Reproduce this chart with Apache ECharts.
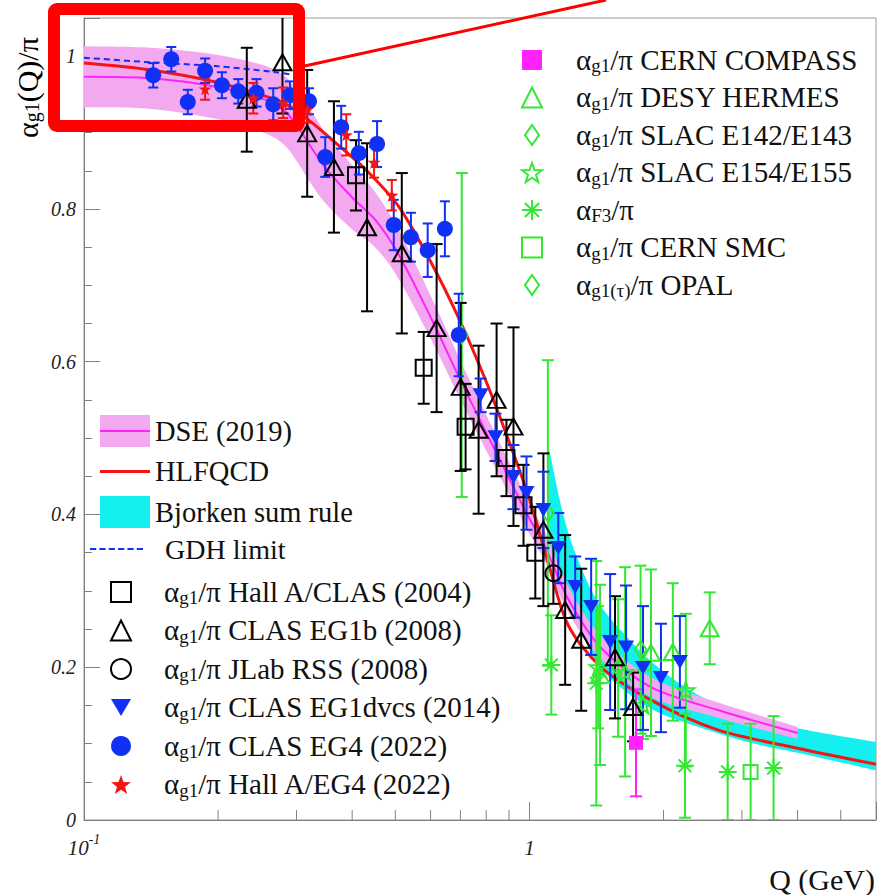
<!DOCTYPE html>
<html>
<head>
<meta charset="utf-8">
<title>alpha_g1 effective charge</title>
<script src="https://cdn.jsdelivr.net/npm/echarts@6.0.0/dist/echarts.min.js"></script>
<style>
  html, body { margin: 0; padding: 0; background: #fff; }
  #chart { width: 879px; height: 895px; }
</style>
</head>
<body>
<div id="chart"></div>
<script>
// values (Q in GeV, alpha/pi)

// DSE (2019) band: centre line and half width
const dseQ    = [0.1, 0.141, 0.198, 0.25, 0.28, 0.30, 0.32, 0.35, 0.40, 0.452, 0.509, 0.604, 0.683, 0.73, 0.866, 0.995, 1.086, 1.22, 1.45, 1.875, 2.647, 4.0]
const dseMid  = [0.973, 0.971, 0.960, 0.945, 0.930, 0.910, 0.885, 0.852, 0.815, 0.785, 0.740, 0.655, 0.589, 0.554, 0.467, 0.397, 0.357, 0.290, 0.225, 0.174, 0.144, 0.114]
const dseHalf = [0.040, 0.040, 0.042, 0.044, 0.045, 0.047, 0.048, 0.046, 0.042, 0.036, 0.032, 0.028, 0.026, 0.025, 0.022, 0.020, 0.019, 0.017, 0.015, 0.013, 0.010, 0.008]

// HLFQCD
const hlfQ = [0.1, 0.141, 0.198, 0.28, 0.32, 0.37, 0.43, 0.509, 0.604, 0.694, 0.797, 0.898, 1.0, 1.103, 1.222, 1.449, 1.875, 2.647, 4.0, 6.0]
const hlfA = [0.991, 0.982, 0.966, 0.939, 0.916, 0.885, 0.851, 0.803, 0.728, 0.657, 0.576, 0.497, 0.420, 0.336, 0.255, 0.200, 0.157, 0.118, 0.094, 0.073]

// Bjorken sum rule band
const bjQ  = [1.103, 1.191, 1.287, 1.427, 1.665, 1.944, 2.388, 3.09, 4.0, 6.0]
const bjLo = [0.340, 0.290, 0.255, 0.203, 0.166, 0.141, 0.122, 0.102, 0.088, 0.065]
const bjHi = [0.491, 0.400, 0.340, 0.285, 0.238, 0.200, 0.164, 0.137, 0.120, 0.102]

// GDH limit
const gdhQ = [0.1, 0.141, 0.198, 0.27, 0.30]
const gdhA = [0.998, 0.992, 0.987, 0.979, 0.975]

// alpha_g1/pi Hall A/CLAS (2004)
const hacQ = [0.408, 0.579, 0.719, 0.888, 0.970, 1.031]
const hacA = [0.844, 0.592, 0.515, 0.474, 0.412, 0.350]
const hacE = [0.046, 0.047, 0.056, 0.050, 0.053, 0.060]

// CLAS EG1b (2008)
const eg1bQ = [0.232, 0.279, 0.317, 0.364, 0.432, 0.517, 0.619, 0.701, 0.769, 0.844, 0.921, 1.075, 1.203, 1.307, 1.557, 1.709]
const eg1bA = [0.943, 0.992, 0.899, 0.855, 0.776, 0.742, 0.644, 0.567, 0.511, 0.550, 0.515, 0.380, 0.275, 0.236, 0.213, 0.148]
const eg1bE = [0.068, 0.067, 0.083, 0.086, 0.110, 0.105, 0.110, 0.110, 0.110, 0.100, 0.130, 0.100, 0.098, 0.093, 0.080, 0.045]

// JLab RSS (2008)
const rssQ = [1.132]
const rssA = [0.323]
const rssE = [0.040]

// CLAS EG1dvcs (2014)
const dvcsQ = [0.777, 0.839, 0.921, 0.985, 1.075, 1.161, 1.267, 1.376, 1.518, 1.648, 1.799, 1.974, 2.177]
const dvcsA = [0.556, 0.501, 0.449, 0.428, 0.406, 0.356, 0.305, 0.279, 0.233, 0.226, 0.199, 0.186, 0.207]
const dvcsE = [0.022, 0.031, 0.042, 0.048, 0.050, 0.046, 0.040, 0.063, 0.089, 0.081, 0.081, 0.071, 0.060]

// CLAS EG4 (2022)
const eg4Q = [0.143, 0.157, 0.171, 0.187, 0.204, 0.222, 0.244, 0.266, 0.290, 0.320, 0.348, 0.378, 0.414, 0.455, 0.496, 0.542, 0.591, 0.646, 0.694]
const eg4A = [0.975, 0.996, 0.940, 0.981, 0.962, 0.954, 0.952, 0.937, 0.949, 0.941, 0.868, 0.907, 0.873, 0.885, 0.779, 0.763, 0.746, 0.774, 0.635]
const eg4E = [0.016, 0.016, 0.016, 0.016, 0.017, 0.016, 0.018, 0.021, 0.018, 0.017, 0.026, 0.028, 0.028, 0.030, 0.033, 0.032, 0.035, 0.036, 0.054]

// Hall A/EG4 (2022)
const haQ = [0.187, 0.240, 0.280, 0.317, 0.388, 0.448, 0.491]
const haA = [0.957, 0.945, 0.939, 0.930, 0.897, 0.861, 0.818]
const haE = [0.014, 0.020, 0.020, 0.017, 0.027, 0.020, 0.020]

// CERN COMPASS
const compQ = [1.735]
const compA = [0.101]
const compE = [0.070]

// DESY HERMES
const hermQ = [1.441, 1.875, 2.099, 2.54]
const hermA = [0.190, 0.219, 0.220, 0.251]
const hermE = [0.118, 0.109, 0.090, 0.047]

// SLAC E142/E143
const e143Q = [0.705, 1.10, 1.582]
const e143A = [0.635, 0.402, 0.199]
const e143E = [0.212, 0.200, 0.090]

// SLAC E154/E155
const e155Q = [1.427, 1.64, 1.799, 2.245]
const e155A = [0.200, 0.194, 0.151, 0.170]
const e155E = [0.080, 0.137, 0.045, 0.100]

// alpha_F3/pi
const f3Q = [1.12, 1.413, 2.235, 2.787, 3.533]
const f3A = [0.203, 0.179, 0.071, 0.063, 0.068]
const f3E = [0.065, 0.160, 0.068, 0.063, 0.068]

// CERN SMC
const smcQ = [3.138]
const smcA = [0.063]
const smcE = [0.063]

// OPAL (tau)
const opalQ = [1.777]
const opalA = [0.223]
const opalE = [0.110]

// axis ticks
const xMinorTicks = [0.2, 0.3, 0.4, 0.5, 0.6, 0.7, 0.8, 0.9, 2, 3, 4, 5]

const SERIF = '"Liberation Serif", "DejaVu Serif", serif'
const BLUE = '#1030f5'
const RED = '#f51414'
const GREEN = '#33e833'
const MAGENTA = '#ff22ff'
const CYAN = '#14f0f0'
const PINK = '#f3a9ef'
const AXIS = '#808080'

const STAR = 'path://M10,0 L12.35,6.76 L19.51,6.91 L13.8,11.24 L15.88,18.09 L10,14 L4.12,18.09 L6.2,11.24 L0.49,6.91 L7.65,6.76 Z'
const ASTERISK = 'path://M10,0 L10,20 M0,10 L20,10 M2.93,2.93 L17.07,17.07 M2.93,17.07 L17.07,2.93'
const DOWN = 'path://M0,0 L20,0 L10,17 Z'
const DIAMOND = 'path://M7,0 L14,10 L7,20 L0,10 Z'
const LINE_ICON = 'path://M0,0 L50,0 L50,3 L0,3 Z'
const DASH_ICON = 'path://M0,0 h6 v2 h-6 Z M9,0 h6 v2 h-6 Z M18,0 h6 v2 h-6 Z M27,0 h6 v2 h-6 Z M36,0 h6 v2 h-6 Z M45,0 h6 v2 h-6 Z'

const hollow = c => ({ color: 'rgba(0,0,0,0)', borderColor: c, borderWidth: 2, opacity: 1 })

const errorBars = (name, q, a, e, color, cap) => ({
  type: 'custom',
  name: name + ' err',
  z: 3,
  clip: true,
  silent: true,
  data: q.map((x, i) => [x, a[i] - e[i], a[i] + e[i]]),
  encode: { x: 0, y: [1, 2] },
  renderItem (params, api) {
    const lo = api.coord([api.value(0), api.value(1)])
    const hi = api.coord([api.value(0), api.value(2)])
    const st = { stroke: color, lineWidth: 2 }
    return {
      type: 'group',
      children: [
        { type: 'line', shape: { x1: lo[0], y1: lo[1], x2: hi[0], y2: hi[1] }, style: st },
        { type: 'line', shape: { x1: lo[0] - cap, y1: lo[1], x2: lo[0] + cap, y2: lo[1] }, style: st },
        { type: 'line', shape: { x1: hi[0] - cap, y1: hi[1], x2: hi[0] + cap, y2: hi[1] }, style: st }
      ]
    }
  }
})

const points = (name, q, a, symbol, size, itemStyle) => ({
  type: 'scatter',
  name,
  z: 4,
  symbol,
  symbolSize: size,
  itemStyle: Object.assign({ opacity: 1 }, itemStyle),
  emphasis: { disabled: true },
  data: q.map((x, i) => [x, a[i]])
})

// smooth curve through pixel points (Catmull-Rom as cubic Beziers)
const curveThrough = pts => {
  let d = ''
  for (let i = 0; i < pts.length - 1; i++) {
    const p0 = pts[Math.max(i - 1, 0)]
    const p1 = pts[i]
    const p2 = pts[i + 1]
    const p3 = pts[Math.min(i + 2, pts.length - 1)]
    const c1 = [p1[0] + (p2[0] - p0[0]) / 6, p1[1] + (p2[1] - p0[1]) / 6]
    const c2 = [p2[0] - (p3[0] - p1[0]) / 6, p2[1] - (p3[1] - p1[1]) / 6]
    d += ` C${c1[0]},${c1[1]} ${c2[0]},${c2[1]} ${p2[0]},${p2[1]}`
  }
  return d
}

// filled band between lo and hi, positioned with the axes
const band = (name, q, lo, hi, color) => ({
  type: 'custom',
  name,
  z: 1,
  silent: true,
  clip: true,
  itemStyle: { color },
  data: [[q[0], lo[0]]],
  encode: { x: 0, y: 1 },
  renderItem (params, api) {
    const top = q.map((x, i) => api.coord([x, hi[i]]))
    const bot = q.map((x, i) => api.coord([x, lo[i]])).reverse()
    const d = `M${top[0][0]},${top[0][1]}` + curveThrough(top) +
      ` L${bot[0][0]},${bot[0][1]}` + curveThrough(bot) + ' Z'
    return { type: 'path', shape: { pathData: d }, style: { fill: color, stroke: null } }
  }
})

const legendText = {
  'Hall A/CLAS (2004)': ['g1', '/π Hall A/CLAS (2004)'],
  'CLAS EG1b (2008)': ['g1', '/π CLAS EG1b (2008)'],
  'JLab RSS (2008)': ['g1', '/π JLab RSS (2008)'],
  'CLAS EG1dvcs (2014)': ['g1', '/π CLAS EG1dvcs (2014)'],
  'CLAS EG4 (2022)': ['g1', '/π CLAS EG4 (2022)'],
  'Hall A/EG4 (2022)': ['g1', '/π Hall A/EG4 (2022)'],
  'CERN COMPASS': ['g1', '/π CERN COMPASS'],
  'DESY HERMES': ['g1', '/π DESY HERMES'],
  'SLAC E142/E143': ['g1', '/π SLAC E142/E143'],
  'SLAC E154/E155': ['g1', '/π SLAC E154/E155'],
  'F3': ['F3', '/π'],
  'CERN SMC': ['g1', '/π CERN SMC'],
  'OPAL': ['g1(τ)', '/π OPAL']
}
const LEGEND_SIZE = 29
const subRich = pad => ({
  p: { fontFamily: SERIF, fontSize: LEGEND_SIZE, color: '#111', lineHeight: 30, verticalAlign: 'top', padding: [0, 0, 0, pad] },
  a: { fontFamily: SERIF, fontSize: LEGEND_SIZE, color: '#111', lineHeight: 30, verticalAlign: 'top' },
  s: { fontFamily: SERIF, fontSize: 19, color: '#111', lineHeight: 4, verticalAlign: 'bottom' }
})
const subFormatter = n => '{p|α}{s|' + legendText[n][0] + '}{a|' + legendText[n][1] + '}'

const dseLo = dseMid.map((m, i) => m - dseHalf[i])
const dseHi = dseMid.map((m, i) => m + dseHalf[i])

const chart = echarts.init(document.getElementById('chart'), null, { renderer: 'svg' })

chart.setOption({
  animation: false,
  backgroundColor: '#fff',
  grid: { left: 84, top: 18, right: 0, bottom: 75, show: true, borderColor: '#9a9a9a', borderWidth: 1 },
  xAxis: {
    type: 'log',
    logBase: 10,
    min: 0.1,
    max: 6,
    axisLine: { lineStyle: { color: AXIS } },
    axisTick: { inside: true, length: 18, lineStyle: { color: AXIS } },
    splitLine: { show: false },
    axisLabel: {
      margin: 12,
      formatter: v => Math.abs(v - 0.1) < 1e-9 ? '{b|10}{e|-1}' : (Math.abs(v - 1) < 1e-9 ? '{b|1}' : ''),
      rich: {
        b: { fontFamily: SERIF, fontStyle: 'italic', fontSize: 21, color: '#222', lineHeight: 26, verticalAlign: 'bottom' },
        e: { fontFamily: SERIF, fontStyle: 'italic', fontSize: 14, color: '#222', lineHeight: 12, verticalAlign: 'top' }
      }
    }
  },
  yAxis: {
    type: 'value',
    min: 0,
    max: 1.05,
    interval: 0.2,
    axisLine: { show: true, lineStyle: { color: AXIS } },
    axisTick: { inside: true, length: 16, lineStyle: { color: AXIS } },
    minorTick: { show: true, splitNumber: 4, length: 8, lineStyle: { color: AXIS } },
    splitLine: { show: false },
    axisLabel: {
      margin: 8,
      fontFamily: SERIF,
      fontStyle: 'italic',
      fontSize: 20,
      color: '#222',
      formatter: v => {
        const r = Math.round(v * 5)
        return Math.abs(v * 5 - r) < 1e-6 ? String(+(r / 5).toFixed(1)) : ''
      }
    }
  },
  legend: [
    {
      orient: 'vertical', left: 100, top: 415, padding: 0, itemGap: 10,
      itemWidth: 50, itemHeight: 32, selectedMode: false,
      textStyle: { fontFamily: SERIF, fontSize: 28.5, color: '#111' },
      data: [
        { name: 'DSE (2019)', icon: 'rect', itemStyle: { color: PINK } },
        { name: 'HLFQCD', icon: LINE_ICON, itemStyle: { color: RED, borderWidth: 0 } },
        { name: 'Bjorken sum rule', icon: 'rect', itemStyle: { color: CYAN } }
      ]
    },
    {
      orient: 'vertical', left: 90, top: 535, padding: 0,
      itemWidth: 53, itemHeight: 20, selectedMode: false,
      formatter: '{g|GDH limit}',
      textStyle: { rich: { g: { fontFamily: SERIF, fontSize: 28, color: '#111', padding: [0, 0, 0, 17] } } },
      data: [{ name: 'GDH limit', icon: DASH_ICON, itemStyle: { color: BLUE, borderWidth: 0 } }]
    },
    {
      orient: 'vertical', left: 110, top: 577, padding: 0, itemGap: 8.5,
      itemWidth: 20, itemHeight: 20, selectedMode: false,
      formatter: subFormatter,
      textStyle: { rich: subRich(28) },
      data: ['Hall A/CLAS (2004)', 'CLAS EG1b (2008)', 'JLab RSS (2008)', 'CLAS EG1dvcs (2014)', 'CLAS EG4 (2022)', 'Hall A/EG4 (2022)']
    },
    {
      orient: 'vertical', left: 521, top: 45, padding: 0, itemGap: 7.5,
      itemWidth: 20, itemHeight: 20, selectedMode: false,
      formatter: subFormatter,
      textStyle: { rich: subRich(29) },
      data: ['CERN COMPASS', 'DESY HERMES', 'SLAC E142/E143', 'SLAC E154/E155', 'F3', 'CERN SMC', 'OPAL']
    }
  ],
  series: [
    band('Bjorken sum rule', bjQ, bjLo, bjHi, CYAN),
    band('DSE (2019)', dseQ, dseLo, dseHi, PINK),
    {
      type: 'line', name: 'DSE centre', z: 2, silent: true, symbol: 'none', smooth: 0.3,
      lineStyle: { color: MAGENTA, width: 2 },
      data: dseQ.map((x, i) => [x, dseMid[i]])
    },
    {
      type: 'line', name: 'HLFQCD', z: 2, silent: true, symbol: 'none', smooth: 0.3,
      itemStyle: { color: RED },
      lineStyle: { color: RED, width: 3 },
      data: hlfQ.map((x, i) => [x, hlfA[i]])
    },
    {
      type: 'line', name: 'GDH limit', z: 2, silent: true, symbol: 'none', smooth: 0.3,
      itemStyle: { color: BLUE },
      lineStyle: { color: BLUE, width: 2, type: [6, 4] },
      data: gdhQ.map((x, i) => [x, gdhA[i]])
    },
    {
      type: 'custom', name: 'x minor ticks', z: 5, silent: true,
      data: xMinorTicks.map(v => [v, 0]),
      encode: { x: 0, y: 1 },
      renderItem (params, api) {
        const c = api.coord([api.value(0), 0])
        return { type: 'line', shape: { x1: c[0], y1: c[1], x2: c[0], y2: c[1] - 10 }, style: { stroke: AXIS, lineWidth: 1 } }
      }
    },

    errorBars('SLAC E142/E143', e143Q, e143A, e143E, GREEN, 6),
    errorBars('SLAC E154/E155', e155Q, e155A, e155E, GREEN, 6),
    errorBars('F3', f3Q, f3A, f3E, GREEN, 6),
    errorBars('DESY HERMES', hermQ, hermA, hermE, GREEN, 6),
    errorBars('CERN SMC', smcQ, smcA, smcE, GREEN, 6),
    errorBars('OPAL', opalQ, opalA, opalE, GREEN, 6),
    errorBars('CERN COMPASS', compQ, compA, compE, MAGENTA, 6),
    errorBars('Hall A/CLAS (2004)', hacQ, hacA, hacE, '#000', 6),
    errorBars('CLAS EG1b (2008)', eg1bQ, eg1bA, eg1bE, '#000', 6),
    errorBars('JLab RSS (2008)', rssQ, rssA, rssE, '#000', 6),
    errorBars('CLAS EG1dvcs (2014)', dvcsQ, dvcsA, dvcsE, BLUE, 6),
    errorBars('CLAS EG4 (2022)', eg4Q, eg4A, eg4E, BLUE, 5),
    errorBars('Hall A/EG4 (2022)', haQ, haA, haE, RED, 5),

    points('SLAC E142/E143', e143Q, e143A, DIAMOND, [12, 17], hollow(GREEN)),
    points('SLAC E154/E155', e155Q, e155A, STAR, [17, 17], hollow(GREEN)),
    points('F3', f3Q, f3A, ASTERISK, [18, 18], hollow(GREEN)),
    points('DESY HERMES', hermQ, hermA, 'triangle', [18, 16], hollow(GREEN)),
    points('CERN SMC', smcQ, smcA, 'rect', [14, 14], hollow(GREEN)),
    points('OPAL', opalQ, opalA, DIAMOND, [12, 17], hollow(GREEN)),
    points('CERN COMPASS', compQ, compA, 'rect', [14, 14], { color: MAGENTA }),
    points('Hall A/CLAS (2004)', hacQ, hacA, 'rect', [16, 16], hollow('#000')),
    points('CLAS EG1b (2008)', eg1bQ, eg1bA, 'triangle', [18, 16], hollow('#000')),
    points('JLab RSS (2008)', rssQ, rssA, 'circle', [16, 16], hollow('#000')),
    points('CLAS EG1dvcs (2014)', dvcsQ, dvcsA, DOWN, [16, 14], { color: BLUE }),
    points('CLAS EG4 (2022)', eg4Q, eg4A, 'circle', [16, 16], { color: BLUE }),
    points('Hall A/EG4 (2022)', haQ, haA, STAR, [13, 13], { color: RED })
  ],
  graphic: [
    {
      type: 'text', x: 12, y: 138, rotation: Math.PI / 2, z: 50,
      style: {
        text: '{a|α}{s|g1}{a|(Q)/π}',
        align: 'left', verticalAlign: 'top',
        rich: {
          a: { fontFamily: SERIF, fontSize: 30, color: '#111', lineHeight: 30, verticalAlign: 'top' },
          s: { fontFamily: SERIF, fontSize: 20, color: '#111', lineHeight: 4, verticalAlign: 'bottom' }
        }
      }
    },
    {
      type: 'text', right: 4, top: 864, z: 50,
      style: { text: 'Q (GeV)', fontFamily: SERIF, fontSize: 30, fill: '#111' }
    },
    // magenta centre line on the DSE legend swatch
    { type: 'line', z: 50, shape: { x1: 100, y1: 431, x2: 150, y2: 431 }, style: { stroke: MAGENTA, lineWidth: 2 } },
    // red zoom frame drawn over the plot
    { type: 'rect', z: 100, shape: { x: 54, y: 9, width: 245, height: 117, r: 3 }, style: { fill: 'none', stroke: '#ff0000', lineWidth: 12 } },
    { type: 'line', z: 100, shape: { x1: 300, y1: 67, x2: 606, y2: 0 }, style: { stroke: '#ff0000', lineWidth: 3 } }
  ]
})
</script>
</body>
</html>
